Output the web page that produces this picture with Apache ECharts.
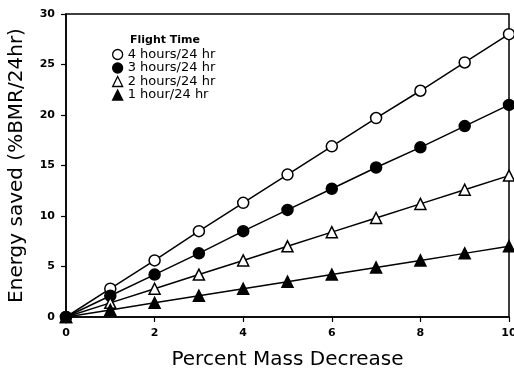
<!DOCTYPE html>
<html><head><meta charset="utf-8">
<script src="https://cdn.jsdelivr.net/npm/echarts@6/dist/echarts.min.js"></script>
<style>html,body{margin:0;padding:0;background:#fff}#c{width:514px;height:376px}</style>
</head><body><div id="c"></div>
<script>
const xValues = [0, 1, 2, 3, 4, 5, 6, 7, 8, 9, 10];
const seriesNames = ['4 hours/24 hr', '3 hours/24 hr', '2 hours/24 hr', '1 hour/24 hr'];
const hours4 = [0, 2.8, 5.6, 8.5, 11.3, 14.1, 16.9, 19.7, 22.4, 25.2, 28.0];
const hours3 = [0, 2.1, 4.2, 6.3, 8.5, 10.6, 12.7, 14.8, 16.8, 18.9, 21.0];
const hours2 = [0, 1.4, 2.8, 4.2, 5.6, 7.0, 8.4, 9.8, 11.2, 12.6, 14.0];
const hours1 = [0, 0.7, 1.4, 2.1, 2.8, 3.5, 4.2, 4.9, 5.6, 6.3, 7.0];
const xTicks = [0, 2, 4, 6, 8, 10];
const yTicks = [0, 5, 10, 15, 20, 25, 30];

const font = 'DejaVu Sans';
const pair = arr => xValues.map((x, i) => [x, arr[i]]);
const styles = [
  {symbol: 'circle', fill: '#fff'},
  {symbol: 'circle', fill: '#000'},
  {symbol: 'triangle', fill: '#fff'},
  {symbol: 'triangle', fill: '#000'}
];
const allData = [hours4, hours3, hours2, hours1];

const chart = echarts.init(document.getElementById('c'), null, {renderer: 'canvas'});
chart.setOption({
  animation: false,
  backgroundColor: '#fff',
  grid: {left: 66, right: 5, top: 14, bottom: 59, outerBoundsMode: 'none', containLabel: false,
    show: true, borderColor: '#000', borderWidth: 1.5, backgroundColor: 'transparent'},
  title: {text: 'Flight Time', left: 125, top: 30, textStyle: {fontFamily: font, fontSize: 11, fontWeight: 'bold', color: '#000'}},
  legend: {
    orient: 'vertical', left: 107, top: 43, itemWidth: 10, itemHeight: 10, itemGap: 0.5,
    textStyle: {fontFamily: font, fontSize: 13, lineHeight: 10, color: '#000', padding: [0, 0, 0, 0]},
    itemStyle: {borderWidth: 1.3},
    data: seriesNames.map((n, i) => ({name: n, icon: styles[i].symbol}))
  },
  xAxis: {
    type: 'value', min: 0, max: 10, interval: 2,
    name: 'Percent Mass Decrease', nameLocation: 'middle', nameGap: 33,
    nameTextStyle: {fontFamily: font, fontSize: 20, color: '#000'},
    axisLine: {lineStyle: {color: '#000', width: 1.5}},
    axisTick: {show: true, length: 5, lineStyle: {color: '#000', width: 1.2}},
    axisLabel: {fontFamily: font, fontSize: 11, fontWeight: 'bold', color: '#000', margin: 11,
      formatter: v => xTicks.includes(v) ? String(v) : ''},
    splitLine: {show: false}
  },
  yAxis: {
    type: 'value', min: 0, max: 30, interval: 5,
    name: 'Energy saved (%BMR/24hr)', nameLocation: 'middle', nameGap: 39,
    nameTextStyle: {fontFamily: font, fontSize: 20, color: '#000'},
    axisLine: {show: true, lineStyle: {color: '#000', width: 1.5}},
    axisTick: {show: true, length: 5, lineStyle: {color: '#000', width: 1.2}},
    axisLabel: {fontFamily: font, fontSize: 11, fontWeight: 'bold', color: '#000', margin: 11,
      formatter: v => yTicks.includes(v) ? String(v) : ''},
    splitLine: {show: false}
  },
  series: seriesNames.map((n, i) => ({
    name: n, type: 'line', data: pair(allData[i]),
    symbol: styles[i].symbol, symbolSize: 11, showSymbol: true,
    lineStyle: {color: '#000', width: 1.5},
    itemStyle: {color: styles[i].fill, borderColor: '#000', borderWidth: 1.5},
    z: 2 + i
  }))
});
</script></body></html>
